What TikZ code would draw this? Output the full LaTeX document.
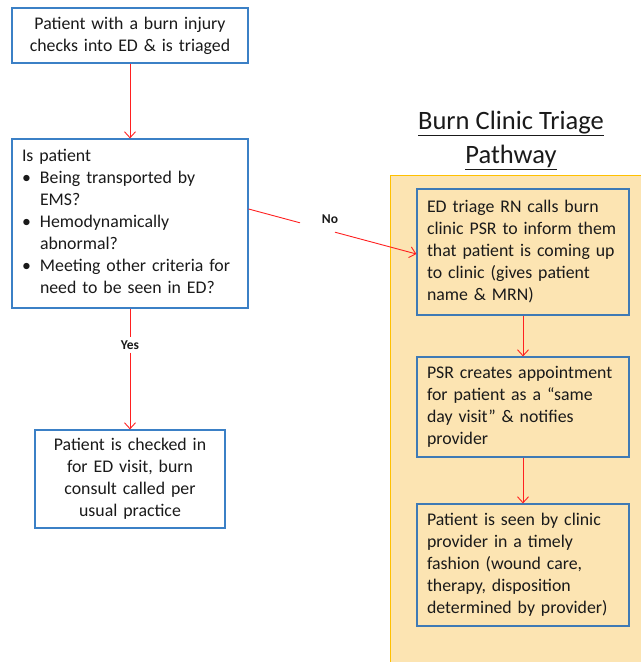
\documentclass[tikz,border=0pt]{standalone}
\usepackage{fontspec}
\setmainfont{Carlito}
\usetikzlibrary{arrows.meta,calc}
\definecolor{leftblue}{HTML}{3B80C6}
\definecolor{rightblue}{HTML}{3F7AB5}
\definecolor{panel}{HTML}{FCE4B2}
\definecolor{gold}{HTML}{FFC000}
\definecolor{arrowred}{HTML}{FF2020}
\definecolor{txt}{HTML}{1A1A1A}
\tikzset{
 box/.style={draw=leftblue, line width=1.2pt, fill=white, text=txt, font=\fontsize{17.8}{22}\selectfont, inner sep=0pt},
 rbox/.style={box, draw=rightblue, fill=none, align=left, minimum width=212pt, text width=192pt},
 flow/.style={draw=arrowred, line width=0.9pt, -{Straight Barb[length=6pt,width=11pt]}},
 plain/.style={draw=arrowred, line width=0.9pt},
 lbl/.style={font=\fontsize{13.5}{15}\selectfont\bfseries, text=txt, inner xsep=1pt, inner ysep=3pt},
}
\begin{document}
\begin{tikzpicture}[x=1pt,y=-1pt]
\useasboundingbox (0,0) rectangle (641,662);
% panel
\fill[panel] (390,175) rectangle (641,662);
\draw[gold, line width=1pt] (390,662) -- (390,175) -- (641,175);
% title
\node[font=\fontsize{26.5}{34}\selectfont, text=txt, align=center] (title) at (511,140) {\underline{Burn Clinic Triage}\\\underline{Pathway}};
% left boxes
\node[box, minimum width=236pt, minimum height=55pt, text width=216pt, align=center] (top) at (130,35.5) {Patient with a burn injury\\checks into ED \& is triaged};
\node[box, minimum width=236pt, minimum height=169pt, text width=216pt, align=left] (q) at (130,223.5) {\noindent\begin{tabular}{@{}p{18pt}@{}l@{}}
\multicolumn{2}{@{}l@{}}{Is patient}\\
\textbullet & Being transported by\\
 & EMS?\\
\textbullet & Hemodynamically\\
 & abnormal?\\
\textbullet & Meeting other criteria for\\
 & need to be seen in ED?
\end{tabular}};
\node[box, minimum width=190pt, minimum height=98pt, text width=180pt, align=center] (bl) at (130,479) {Patient is checked in\\for ED visit, burn\\consult called per\\usual practice};
% right boxes (text starts 10pt from the left border)
\node[rbox, minimum height=126pt] (b1) at (523,252) {\mbox{ED triage RN calls burn}\\\mbox{clinic PSR to inform them}\\\mbox{that patient is coming up}\\\mbox{to clinic (gives patient}\\\mbox{name \& MRN)}};
\node[rbox, minimum height=100pt] (b2) at (523,407) {\mbox{PSR creates appointment}\\\mbox{for patient as a “same}\\\mbox{day visit” \& notifies}\\\mbox{provider}};
\node[rbox, minimum height=122pt] (b3) at (523,565) {\mbox{Patient is seen by clinic}\\\mbox{provider in a timely}\\\mbox{fashion (wound care,}\\\mbox{therapy, disposition}\\\mbox{determined by provider)}};
% connectors
\draw[flow] (top.south) -- (q.north);
\node[lbl] (yes) at (130,345) {Yes};
\draw[plain] (q.south) -- (yes.north);
\draw[flow] (yes.south) -- (bl.north);
\coordinate (nA) at (300,222.8);
\coordinate (nB) at (335,232.2);
\node[lbl] (no) at (330,219) {No};
\draw[plain] ([yshift=14.5pt]q.east) -- (nA);
\draw[flow] (nB) -- ([yshift=-2pt]b1.west);
\draw[flow] (b1.south) -- (b2.north);
\draw[flow] (b2.south) -- (b3.north);
\end{tikzpicture}
\end{document}
